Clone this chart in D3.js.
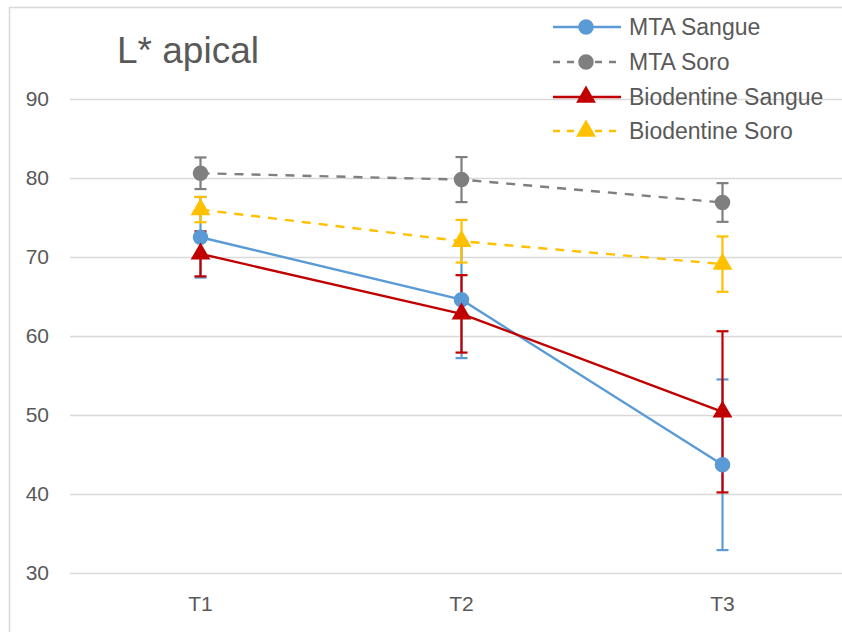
<!DOCTYPE html>
<html>
<head>
<meta charset="utf-8">
<script src="https://cdn.jsdelivr.net/npm/d3@7"></script>
<style>
  body { margin: 0; background: #fff; }
  svg text { font-family: "Liberation Sans", Arial, sans-serif; fill: #595959; }
</style>
</head>
<body>
<script>
window.addEventListener('load', () => {

    let categories = ['T1', 'T2', 'T3'];
    let yTicks = [30, 40, 50, 60, 70, 80, 90];

    let seriesNames = ['MTA Sangue', 'MTA Soro', 'Biodentine Sangue', 'Biodentine Soro'];
    let mtaSangue = [72.5, 64.6, 43.7];
    let mtaSoro = [80.6, 79.8, 76.9];
    let bioSangue = [70.4, 62.8, 50.4];
    let bioSoro = [76.0, 72.0, 69.1];

    let mtaSangueErr = [5.1, 7.4, 10.8];
    let mtaSoroErr = [2.0, 2.85, 2.45];
    let bioSangueErr = [2.85, 4.9, 10.2];
    let bioSoroErr = [1.6, 2.7, 3.5];

    let width = 842;
    let height = 632;

    let series = [
        {name: seriesNames[0], values: mtaSangue, err: mtaSangueErr, color: '#5B9BD5', dash: null, marker: 'circle'},
        {name: seriesNames[1], values: mtaSoro, err: mtaSoroErr, color: '#7F7F7F', dash: '9,8', marker: 'circle'},
        {name: seriesNames[2], values: bioSangue, err: bioSangueErr, color: '#C00000', dash: null, marker: 'triangle'},
        {name: seriesNames[3], values: bioSoro, err: bioSoroErr, color: '#FFC000', dash: '9,8', marker: 'triangle'}
    ];

    let x = d3.scaleBand()
        .domain(categories)
        .range([70, 853]);

    let y = d3.scaleLinear()
        .domain([30, 90])
        .range([573, 99]);

    let cx = d => x(d) + x.bandwidth() / 2;

    let svg = d3.select('body')
        .append('svg')
        .attr('width', width)
        .attr('height', height);

    // chart border
    svg.append('rect')
        .attr('x', 9.5)
        .attr('y', 7.5)
        .attr('width', 900)
        .attr('height', 700)
        .attr('fill', 'none')
        .attr('stroke', '#D9D9D9')
        .attr('stroke-width', 1.5);

    // gridlines + y labels
    let yAxis = d3.axisLeft(y)
        .tickValues(yTicks)
        .tickSize(-(853 - 70))
        .tickPadding(21);

    let gy = svg.append('g')
        .attr('transform', 'translate(70,0)')
        .call(yAxis);
    gy.select('.domain').remove();
    gy.selectAll('line').attr('stroke', '#D9D9D9').attr('stroke-width', 1.3);
    gy.selectAll('text')
        .attr('font-size', 21)
        .attr('fill', '#595959')
        .style('font-family', '"Liberation Sans", Arial, sans-serif');

    let xAxis = d3.axisBottom(x)
        .tickSize(0)
        .tickPadding(23);

    let gx = svg.append('g')
        .attr('transform', 'translate(0,573)')
        .call(xAxis);
    gx.select('.domain').remove();
    gx.selectAll('text')
        .attr('font-size', 21)
        .attr('fill', '#595959')
        .style('font-family', '"Liberation Sans", Arial, sans-serif');

    // title
    svg.append('text')
        .attr('x', 117)
        .attr('y', 63)
        .attr('font-size', 37)
        .text('L* apical');

    let line = d3.line()
        .x((d, i) => cx(categories[i]))
        .y(d => y(d));

    let circle = d3.symbol().type(d3.symbolCircle).size(190);
    let triangle = d3.symbol().type(d3.symbolTriangle).size(170);

    // error bars
    series.forEach(s => {
        let g = svg.append('g');
        s.values.forEach((v, i) => {
            let px = cx(categories[i]);
            let top = y(v + s.err[i]);
            let bot = y(v - s.err[i]);
            g.append('line')
                .attr('x1', px).attr('x2', px)
                .attr('y1', top).attr('y2', bot)
                .attr('stroke', s.color).attr('stroke-width', 2.2);
            [top, bot].forEach(yy => {
                g.append('line')
                    .attr('x1', px - 6).attr('x2', px + 6)
                    .attr('y1', yy).attr('y2', yy)
                    .attr('stroke', s.color).attr('stroke-width', 2.2);
            });
        });
    });

    // lines
    series.forEach(s => {
        svg.append('path')
            .datum(s.values)
            .attr('d', line)
            .attr('fill', 'none')
            .attr('stroke', s.color)
            .attr('stroke-width', 2.4)
            .attr('stroke-dasharray', s.dash);
    });

    // markers
    series.forEach(s => {
        svg.selectAll(null)
            .data(s.values)
            .enter()
            .append('path')
            .attr('d', s.marker === 'circle' ? circle : triangle)
            .attr('transform', (d, i) => `translate(${cx(categories[i])},${y(d)})`)
            .attr('fill', s.color);
    });

    // legend
    let legend = svg.append('g');
    let rowY = [27, 62, 97, 131];
    series.forEach((s, i) => {
        let g = legend.append('g').attr('transform', `translate(0,${rowY[i]})`);
        g.append('line')
            .attr('x1', 553).attr('x2', 621)
            .attr('stroke', s.color)
            .attr('stroke-width', 2.4)
            .attr('stroke-dasharray', s.dash ? '7,7' : null);
        g.append('path')
            .attr('d', s.marker === 'circle' ? circle : triangle)
            .attr('transform', 'translate(586,0)')
            .attr('fill', s.color);
        g.append('text')
            .attr('x', 629)
            .attr('dy', '0.35em')
            .attr('font-size', 23)
            .text(s.name);
    });
});
</script>
</body>
</html>
